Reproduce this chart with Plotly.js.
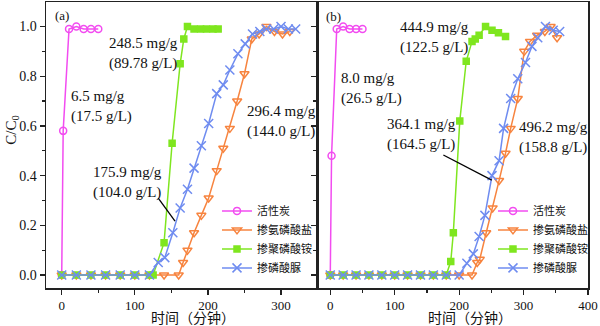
<!DOCTYPE html>
<html><head><meta charset="utf-8">
<script src="https://cdn.plot.ly/plotly-3.0.1.min.js"></script>
<style>html,body{margin:0;padding:0;background:#fff}#chart{width:600px;height:326px}</style>
</head><body><div id="chart"></div>
<script>
// Series names (legend)
const seriesNames = ['活性炭', '掺氨磷酸盐', '掺聚磷酸铵', '掺磷酸脲'];

// Panel (a)
const acA_t = [0, 2, 10, 20, 30, 40, 50];
const acA_y = [0, 0.58, 0.99, 1.0, 0.99, 0.99, 0.99];
const orA_t = [0, 20, 40, 60, 80, 100, 120, 140, 160, 166, 172, 181, 191, 201, 212, 221, 230, 240, 250, 260, 270, 280, 291, 302, 312];
const orA_y = [0, 0, 0, 0, 0, 0, 0, 0, 0, 0.05, 0.10, 0.17, 0.24, 0.31, 0.42, 0.51, 0.59, 0.70, 0.81, 0.95, 0.97, 1.0, 0.98, 0.97, 0.98];
const grA_t = [0, 20, 40, 60, 80, 100, 120, 125, 140, 151, 162, 167, 172, 181, 190, 198, 207, 214];
const grA_y = [0, 0, 0, 0, 0, 0, 0, 0, 0.13, 0.53, 0.85, 0.95, 1.0, 0.99, 0.99, 0.99, 0.99, 0.99];
const blA_t = [0, 20, 40, 60, 80, 100, 120, 132, 141, 152, 162, 172, 181, 191, 201, 212, 221, 230, 241, 251, 261, 271, 280, 290, 300, 310, 320];
const blA_y = [0, 0, 0, 0, 0, 0, 0, 0.05, 0.07, 0.17, 0.27, 0.345, 0.43, 0.52, 0.61, 0.73, 0.765, 0.825, 0.89, 0.93, 0.97, 0.98, 0.99, 0.99, 1.0, 0.99, 0.99];

// Panel (b)
const acB_t = [0, 2, 10, 20, 30, 40, 50];
const acB_y = [0, 0.48, 0.99, 1.0, 0.99, 0.99, 0.99];
const orB_t = [0, 20, 40, 60, 80, 100, 120, 140, 160, 180, 200, 220, 228, 232, 242, 252, 262, 272, 280, 291, 301, 310, 321, 333, 342, 352];
const orB_y = [0, 0, 0, 0, 0, 0, 0, 0, 0, 0, 0, 0, 0.05, 0.063, 0.17, 0.27, 0.38, 0.49, 0.59, 0.71, 0.90, 0.94, 0.965, 0.98, 1.0, 0.955];
const grB_t = [0, 20, 40, 60, 80, 100, 120, 140, 160, 180, 187, 191, 201, 211, 220, 225, 231, 241, 251, 261, 272];
const grB_y = [0, 0, 0, 0, 0, 0, 0, 0, 0, 0, 0.054, 0.17, 0.62, 0.86, 0.94, 0.95, 0.965, 1.0, 0.985, 0.975, 0.96];
const blB_t = [0, 20, 40, 60, 80, 100, 120, 140, 160, 180, 200, 212, 222, 231, 240, 251, 262, 269, 280, 291, 303, 313, 322, 334, 346, 356];
const blB_y = [0, 0, 0, 0, 0, 0, 0, 0, 0, 0, 0, 0.047, 0.085, 0.155, 0.24, 0.40, 0.46, 0.59, 0.71, 0.79, 0.855, 0.92, 0.955, 1.0, 0.985, 0.98];

// Annotation texts
const labelsA = ['(a)', '248.5 mg/g<br>(89.78 g/L)', '6.5 mg/g<br>(17.5 g/L)', '296.4 mg/g<br>(144.0 g/L)', '175.9 mg/g<br>(104.0 g/L)'];
const labelsB = ['(b)', '8.0 mg/g<br>(26.5 g/L)', '444.9 mg/g<br>(122.5 g/L)', '364.1 mg/g<br>(164.5 g/L)', '496.2 mg/g<br>(158.8 g/L)'];
const xTitle = '时间（分钟）';
const yTitle = 'C/C<sub>0</sub>';

const colors = ['#F24CF0', '#F7843F', '#7FE61F', '#6F8CF0'];
const serif = 'Liberation Serif, Times New Roman, serif';
const cjk = 'Noto Sans CJK SC, sans-serif';

function mk(t, y, i, panel) {
  const symbols = ['circle-open', 'triangle-down-open', 'square', 'x-thin-open'];
  const sizes = [7, 8, 6, 9];
  return {
    x: t, y: y, type: 'scatter', mode: 'lines+markers', name: seriesNames[i],
    xaxis: panel === 0 ? 'x' : 'x2', yaxis: panel === 0 ? 'y' : 'y2',
    legend: panel === 0 ? 'legend' : 'legend2',
    line: {color: colors[i], width: 1.5},
    marker: {symbol: symbols[i], size: sizes[i], color: colors[i], line: {color: colors[i], width: 1.5}}
  };
}

const data = [
  mk(acA_t, acA_y, 0, 0), mk(orA_t, orA_y, 1, 0), mk(grA_t, grA_y, 2, 0), mk(blA_t, blA_y, 3, 0),
  mk(acB_t, acB_y, 0, 1), mk(orB_t, orB_y, 1, 1), mk(grB_t, grB_y, 2, 1), mk(blB_t, blB_y, 3, 1)
];

const axisBase = {
  showline: true, linecolor: '#222', linewidth: 1.5, mirror: true,
  showgrid: false, zeroline: false,
  ticks: 'outside', ticklen: 5, tickwidth: 1.2, tickcolor: '#222',
  tickfont: {family: serif, size: 14, color: '#111'},
  minor: {ticks: 'outside', ticklen: 3, tickwidth: 1.2, tickcolor: '#222'}
};

function ann(text, x, y, xr, yr, size) {
  return {text: text, x: x, y: y, xref: xr, yref: yr, xanchor: 'left', yanchor: 'middle', align: 'left',
    showarrow: false, font: {family: serif, size: size || 15, color: '#111'}};
}

const layout = {
  width: 600, height: 326,
  margin: {l: 46, r: 12, t: 2, b: 38},
  paper_bgcolor: '#fff', plot_bgcolor: '#fff',
  xaxis: Object.assign({}, axisBase, {domain: [0, 0.5], range: [-21.5, 349.2], dtick: 100, anchor: 'y',
    tickfont: {family: serif, size: 13, color: '#111'},
    minor: Object.assign({}, axisBase.minor, {dtick: 50})}),
  xaxis2: Object.assign({}, axisBase, {domain: [0.5, 1], range: [-20.6, 400], dtick: 100, anchor: 'y2',
    tickfont: {family: serif, size: 13, color: '#111'},
    minor: Object.assign({}, axisBase.minor, {dtick: 50})}),
  yaxis: Object.assign({}, axisBase, {range: [-0.0523, 1.0986], dtick: 0.2, tickformat: '.1f', anchor: 'x',
    minor: Object.assign({}, axisBase.minor, {dtick: 0.1})}),
  yaxis2: Object.assign({}, axisBase, {range: [-0.0523, 1.0986], dtick: 0.2, showticklabels: false, anchor: 'x2',
    minor: Object.assign({}, axisBase.minor, {dtick: 0.1})}),
  showlegend: true,
  legend: {x: 0.3155, xanchor: 'left', y: 0.17, yanchor: 'middle', bgcolor: 'rgba(0,0,0,0)',
    font: {family: cjk, size: 11, color: '#111'}, itemwidth: 30, tracegroupgap: 0},
  legend2: {x: 0.8247, xanchor: 'left', y: 0.17, yanchor: 'middle', bgcolor: 'rgba(0,0,0,0)',
    font: {family: cjk, size: 11, color: '#111'}, itemwidth: 30, tracegroupgap: 0},
  annotations: [
    ann(labelsA[0], -12.3, 1.043, 'x', 'y', 13),
    ann(labelsA[1], 61.6, 0.890, 'x', 'y'),
    ann(labelsA[2], 10.4, 0.677, 'x', 'y'),
    ann(labelsA[3], 250.8, 0.619, 'x', 'y'),
    ann(labelsA[4], 39.7, 0.374, 'x', 'y'),
    ann(labelsB[0], -9.8, 1.042, 'x2', 'y2', 13),
    ann(labelsB[1], 14, 0.751, 'x2', 'y2'),
    ann(labelsB[2], 104.7, 0.956, 'x2', 'y2'),
    ann(labelsB[3], 84.9, 0.567, 'x2', 'y2'),
    ann(labelsB[4], 289.4, 0.553, 'x2', 'y2'),
    {text: xTitle, x: 0.542, y: -0.101, xref: 'x domain', yref: 'paper', xanchor: 'center', yanchor: 'middle',
      showarrow: false, font: {family: cjk, size: 14, color: '#111'}},
    {text: xTitle, x: 0.565, y: -0.101, xref: 'x2 domain', yref: 'paper', xanchor: 'center', yanchor: 'middle',
      showarrow: false, font: {family: cjk, size: 14, color: '#111'}},
    {text: yTitle, x: -0.0627, y: 0.55, xref: 'paper', yref: 'paper', xanchor: 'center', yanchor: 'middle',
      textangle: -90, showarrow: false, font: {family: serif, size: 15, color: '#111'}}
  ],
  shapes: [
    {type: 'line', xref: 'x', yref: 'y', x0: 132, y0: 0.309, x1: 155, y1: 0.217, line: {color: '#000', width: 1.3}},
    {type: 'line', xref: 'x2', yref: 'y2', x0: 175.5, y0: 0.483, x1: 250.6, y1: 0.382, line: {color: '#000', width: 1.3}}
  ]
};

Plotly.newPlot('chart', data, layout, {displayModeBar: false, staticPlot: true});
</script></body></html>
